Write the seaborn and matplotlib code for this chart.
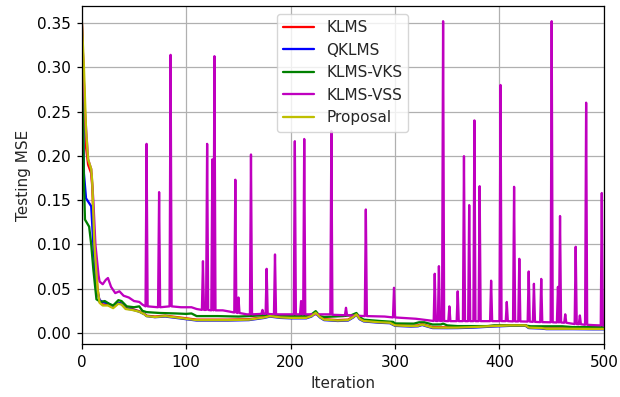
import matplotlib
matplotlib.use("Agg")
import matplotlib.pyplot as plt
import seaborn as sns
import pandas as pd

# Learning curves: testing MSE per iteration for each filter
labels = ["KLMS", "QKLMS", "KLMS-VKS", "KLMS-VSS", "Proposal"]
colors = ["#ff0000", "#0000ff", "#008000", "#bf00bf", "#bfbf00"]

prop_x = [0, 2, 4, 6, 9, 10, 12, 15, 17, 20, 25, 30, 35, 38, 42, 48, 55, 60, 62, 70,
          80, 90, 100, 110, 120, 140, 160, 175, 180, 190, 200, 215, 220, 224, 228, 232,
          245, 255, 260, 263, 266, 270, 285, 295, 300, 315, 322, 326, 330, 336, 350, 360,
          375, 390, 410, 425, 428, 440, 445, 470, 490, 500]
prop_y = [0.352, 0.30, 0.23, 0.196, 0.185, 0.17, 0.10, 0.05, 0.034, 0.031,
          0.031, 0.028, 0.033, 0.032, 0.027, 0.026, 0.024, 0.021, 0.019, 0.018,
          0.019, 0.0175, 0.016, 0.0145, 0.0145, 0.0145, 0.015, 0.0175, 0.019, 0.0175,
          0.017, 0.017, 0.019, 0.0228, 0.018, 0.015, 0.014, 0.0145, 0.018, 0.021,
          0.016, 0.0135, 0.012, 0.0115, 0.0085, 0.0077, 0.008, 0.0095, 0.008, 0.006,
          0.0059, 0.006, 0.0066, 0.0075, 0.0085, 0.0085, 0.006, 0.0055, 0.0047, 0.0047,
          0.0045, 0.0045]

klms_x = prop_x
klms_y = [0.352, 0.28, 0.21, 0.19, 0.18, 0.165, 0.10, 0.05, 0.035, 0.032,
          0.032, 0.029, 0.034, 0.033, 0.028, 0.027, 0.0245, 0.0215, 0.0195, 0.0185,
          0.0195, 0.018, 0.0165, 0.015, 0.015, 0.015, 0.0155, 0.018, 0.0195, 0.018,
          0.0175, 0.0175, 0.0195, 0.023, 0.0185, 0.0155, 0.0145, 0.015, 0.0185, 0.0215,
          0.0165, 0.014, 0.0125, 0.012, 0.009, 0.008, 0.0085, 0.01, 0.0085, 0.0065,
          0.0063, 0.0064, 0.007, 0.0078, 0.0087, 0.0087, 0.0063, 0.0058, 0.005, 0.005,
          0.0048, 0.0048]

qklms_x = [0, 2, 4, 9, 11, 14, 17, 20, 25, 30, 35, 38, 42, 48, 55, 60, 62, 70, 80, 90,
           100, 110, 120, 140, 160, 175, 180, 190, 200, 215, 220, 224, 228, 232, 245,
           255, 260, 263, 266, 270, 285, 295, 300, 315, 322, 326, 330, 336, 350, 360,
           375, 390, 410, 425, 428, 440, 445, 470, 490, 500]
qklms_y = [0.35, 0.18, 0.152, 0.143, 0.10, 0.05, 0.037, 0.035, 0.0335, 0.0295,
           0.034, 0.033, 0.0275, 0.0265, 0.024, 0.021, 0.019, 0.0178, 0.0185, 0.017,
           0.0155, 0.014, 0.014, 0.014, 0.0145, 0.017, 0.0185, 0.017, 0.0165, 0.0165,
           0.0185, 0.0222, 0.0175, 0.0145, 0.0135, 0.014, 0.0175, 0.0205, 0.0155, 0.013,
           0.0115, 0.011, 0.008, 0.0072, 0.0075, 0.009, 0.0075, 0.0055, 0.0054, 0.0055,
           0.006, 0.007, 0.008, 0.008, 0.0055, 0.005, 0.0043, 0.0043, 0.0041, 0.0041]

vks_x = [0, 1, 2, 3, 7, 9, 11, 14, 18, 22, 26, 30, 35, 38, 43, 50, 55, 58, 62, 75,
         90, 100, 105, 110, 130, 150, 160, 180, 195, 215, 220, 224, 228, 232, 250, 258,
         263, 266, 270, 285, 298, 300, 318, 323, 328, 336, 344, 346, 350, 360, 389, 395,
         424, 430, 460, 470, 500]
vks_y = [0.35, 0.25, 0.17, 0.128, 0.12, 0.10, 0.072, 0.038, 0.035, 0.036,
         0.033, 0.031, 0.037, 0.036, 0.030, 0.029, 0.030, 0.025, 0.0235, 0.0225,
         0.022, 0.0215, 0.022, 0.019, 0.019, 0.0185, 0.019, 0.0205, 0.019, 0.019,
         0.021, 0.0246, 0.019, 0.018, 0.019, 0.020, 0.0225, 0.018, 0.015, 0.0135,
         0.0125, 0.0107, 0.0105, 0.012, 0.012, 0.0095, 0.0096, 0.0105, 0.0085, 0.0077,
         0.0077, 0.0085, 0.0085, 0.0075, 0.0075, 0.0066, 0.0066]

vss_x = [0, 3, 6, 9, 11, 13, 16, 17, 20, 23, 25, 28, 32, 36, 40, 45, 50, 55, 58,
         61, 62, 63, 73, 74, 75, 84, 85, 86, 95, 105, 110, 115, 116, 117, 119, 120, 121,
         124, 125, 126, 127, 128, 135, 142, 146, 147, 148, 149, 150, 151, 158, 161, 162,
         163, 172, 173, 174, 176, 177, 178, 184, 185, 186, 203, 204, 205, 209, 210, 211,
         212, 213, 214, 238, 239, 240, 252, 253, 254, 271, 272, 273, 290, 298, 299, 300,
         320, 330, 337, 338, 339, 341, 342, 343, 345, 346, 347, 351, 352, 353, 359, 360,
         361, 365, 366, 367, 370, 371, 372, 375, 376, 377, 380, 381, 382, 391, 392, 393,
         400, 401, 402, 406, 407, 408, 413, 414, 415, 418, 419, 420, 427, 428, 429, 432,
         433, 434, 439, 440, 441, 449, 450, 451, 455, 456, 457, 458, 459, 462, 463, 464,
         472, 473, 474, 476, 477, 478, 482, 483, 484, 490, 497, 498, 499, 500]
vss_y = [0.35, 0.25, 0.196, 0.185, 0.15, 0.10, 0.065, 0.058, 0.055, 0.06, 0.062, 0.052,
         0.045, 0.047, 0.042, 0.040, 0.036, 0.035, 0.032,
         0.030, 0.2135, 0.030, 0.029, 0.159, 0.029, 0.030, 0.314, 0.030, 0.029, 0.029,
         0.027, 0.026, 0.081, 0.026, 0.026, 0.2135, 0.026,
         0.0255, 0.196, 0.0255, 0.3125, 0.0255, 0.0255, 0.024, 0.023, 0.173, 0.023,
         0.0225, 0.040, 0.0225, 0.021, 0.021, 0.2015,
         0.021, 0.0215, 0.026, 0.0215, 0.0215, 0.0724, 0.0215, 0.021, 0.0886, 0.021,
         0.021, 0.2165, 0.021, 0.021, 0.036, 0.021,
         0.021, 0.219, 0.021, 0.021, 0.228, 0.0205, 0.020, 0.0284, 0.020, 0.019, 0.1394,
         0.019, 0.0185, 0.0175, 0.051, 0.0175,
         0.016, 0.0145, 0.0135, 0.0668, 0.0135, 0.0135, 0.0754, 0.0135, 0.0135, 0.352,
         0.0135, 0.0133, 0.030, 0.0133, 0.0133, 0.047,
         0.0133, 0.0133, 0.1996, 0.0133, 0.0133, 0.1443, 0.0133, 0.0133, 0.240, 0.0133,
         0.0133, 0.1657, 0.0133, 0.0133, 0.059, 0.0133,
         0.0133, 0.280, 0.0133, 0.0133, 0.035, 0.0133, 0.013, 0.165, 0.013, 0.013, 0.0837,
         0.013, 0.0128, 0.0694, 0.0128, 0.0125,
         0.0555, 0.0125, 0.0122, 0.061, 0.0122, 0.012, 0.352, 0.012, 0.0118, 0.052, 0.0118,
         0.132, 0.0118, 0.0115, 0.021, 0.0115,
         0.010, 0.0973, 0.010, 0.0098, 0.0197, 0.0098, 0.0092, 0.260, 0.0092, 0.0088,
         0.0085, 0.158, 0.0085, 0.008]

x_ticks = [0, 100, 200, 300, 400, 500]
y_ticks = [0.00, 0.05, 0.10, 0.15, 0.20, 0.25, 0.30, 0.35]

series = [(klms_x, klms_y), (qklms_x, qklms_y), (vks_x, vks_y),
          (vss_x, vss_y), (prop_x, prop_y)]

sns.set_style("ticks")
plt.rcParams["font.family"] = ["DejaVu Sans"]
plt.rcParams["font.size"] = 11

fig = plt.figure(figsize=(6.2, 3.97), dpi=100)
ax = fig.add_axes([0.132, 0.1335, 0.842, 0.851])

for (xs, ys), name, col in zip(series, labels, colors):
    df = pd.DataFrame({"Iteration": xs, "MSE": ys})
    sns.lineplot(data=df, x="Iteration", y="MSE", color=col, label=name,
                 linewidth=1.65, ax=ax, errorbar=None)

ax.set_xlim(0, 500)
ax.set_ylim(-0.0125, 0.369)
ax.set_xticks(x_ticks)
ax.set_yticks(y_ticks)
ax.set_yticklabels([f"{v:.2f}" for v in y_ticks])
ax.grid(True, color="#b0b0b0", linewidth=0.9)
ax.set_axisbelow(True)
for s in ax.spines.values():
    s.set_color("black")
    s.set_linewidth(0.9)
ax.tick_params(colors="black", labelsize=11, direction="out", length=3.9,
               width=0.9, pad=3.9)
ax.set_xlabel("Iteration", fontsize=11, labelpad=4.4)
ax.set_ylabel("Testing MSE", fontsize=11, labelpad=4.4)
ax.legend(loc="upper center", fontsize=11, framealpha=0.8, edgecolor="#cccccc")

fig.savefig("out.png", dpi=100)
